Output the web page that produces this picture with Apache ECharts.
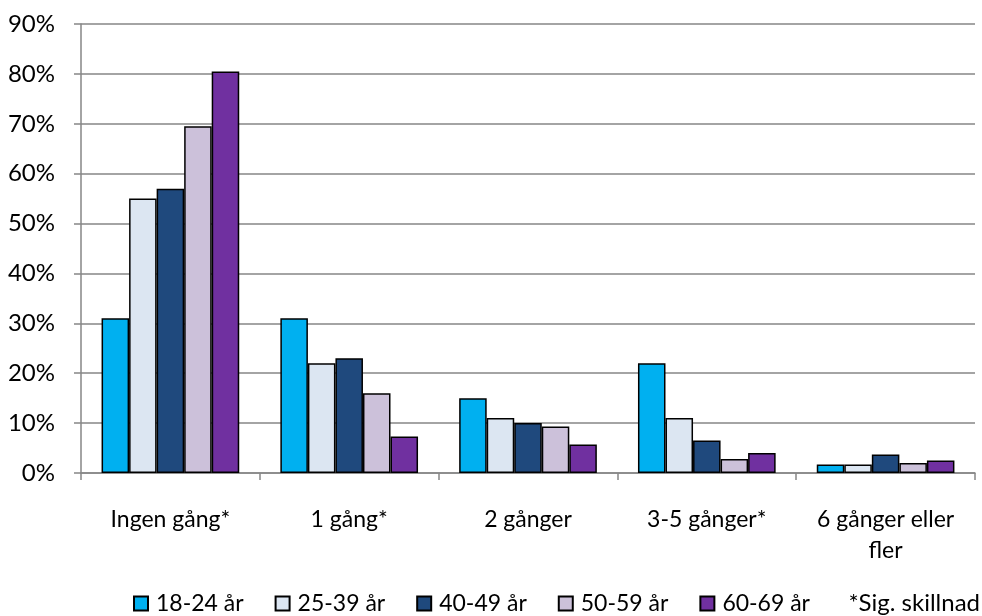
<!DOCTYPE html>
<html>
<head>
<meta charset="utf-8">
<script src="https://cdn.jsdelivr.net/npm/echarts@6/dist/echarts.min.js"></script>
<style>
  html, body { margin: 0; padding: 0; background: #fff; }
  #chart { width: 982px; height: 616px; }
</style>
</head>
<body>
<div id="chart"></div>
<script>
const categories = ['Ingen gång*', '1 gång*', '2 gånger', '3-5 gånger*', '6 gånger eller\nfler'];
const seriesNames = ['18-24 år', '25-39 år', '40-49 år', '50-59 år', '60-69 år'];
const age18_24 = [31, 31, 15, 22, 1.7];
const age25_39 = [55, 22, 11, 11, 1.7];
const age40_49 = [57, 23, 10, 6.5, 3.7];
const age50_59 = [69.5, 16, 9.3, 2.8, 2];
const age60_69 = [80.5, 7.3, 5.7, 4, 2.5];
const yTicks = [0, 10, 20, 30, 40, 50, 60, 70, 80, 90];

const colors = ['#00B0F0', '#DCE6F2', '#1F497D', '#CCC1DA', '#7030A0'];
const values = [age18_24, age25_39, age40_49, age50_59, age60_69];
const font = 'Lato';

const chart = echarts.init(document.getElementById('chart'));

chart.setOption({
  animation: false,
  textStyle: { fontFamily: font },
  grid: { left: 81, right: 7, top: 24, bottom: 143, containLabel: false },
  legend: {
    top: 592,
    left: 133,
    padding: 0,
    itemWidth: 14,
    itemHeight: 14,
    itemGap: 31,
    icon: 'rect',
    textStyle: { fontSize: 23, color: '#000', fontFamily: font, padding: [0, 0, 0, 3] },
    data: seriesNames
  },
  graphic: [{
    type: 'text',
    right: 2,
    top: 591,
    style: { text: '*Sig. skillnad', fontSize: 24, fontFamily: font, fill: '#000' }
  }],
  xAxis: {
    type: 'category',
    data: categories,
    axisLine: { lineStyle: { color: '#868686', width: 1.5 } },
    axisTick: { show: true, length: 7, lineStyle: { color: '#868686', width: 1.5 } },
    axisLabel: { color: '#000', fontSize: 23, margin: 31, lineHeight: 31, interval: 0 }
  },
  yAxis: {
    type: 'value',
    min: yTicks[0],
    max: yTicks[yTicks.length - 1],
    interval: 10,
    axisLine: { show: true, lineStyle: { color: '#868686', width: 1.5 } },
    axisTick: { show: true, length: 7, lineStyle: { color: '#868686', width: 1.5 } },
    axisLabel: { color: '#000', fontSize: 24, margin: 26, formatter: v => v + '%' },
    splitLine: { lineStyle: { color: '#868686', width: 1.5 } }
  },
  series: seriesNames.map((name, i) => ({
    name: name,
    type: 'bar',
    data: values[i],
    barGap: '0%',
    barCategoryGap: '23%',
    itemStyle: { color: colors[i], borderColor: '#000', borderWidth: 1.5 }
  }))
});
</script>
</body>
</html>
